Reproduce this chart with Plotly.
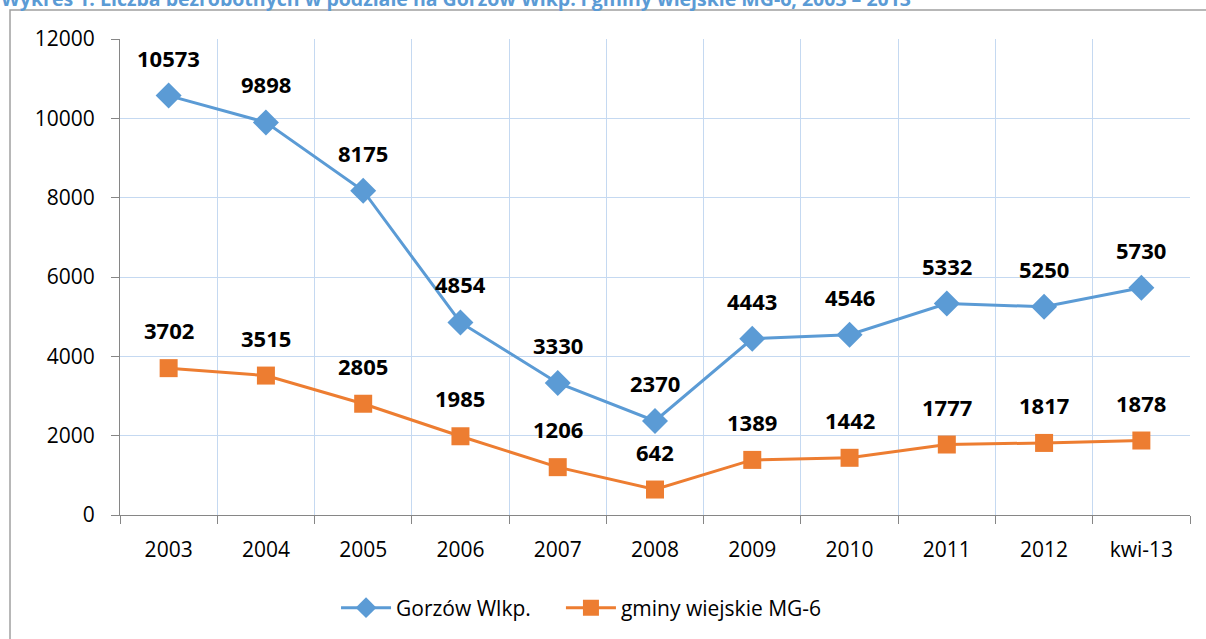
import plotly.graph_objects as go

categories = ["2003", "2004", "2005", "2006", "2007", "2008", "2009", "2010", "2011", "2012", "kwi-13"]
gorzow = [10573, 9898, 8175, 4854, 3330, 2370, 4443, 4546, 5332, 5250, 5730]
gminy = [3702, 3515, 2805, 1985, 1206, 642, 1389, 1442, 1777, 1817, 1878]
series_names = ["Gorzów Wlkp.", "gminy wiejskie MG-6"]
title_text = "Wykres 1. Liczba bezrobotnych w podziale na Gorzów Wlkp. i gminy wiejskie MG-6, 2003 – 2013"

BLUE = "#5B9BD5"
ORANGE = "#ED7D31"
FONT = "Open Sans"

fig = go.Figure()
fig.add_trace(go.Scatter(x=categories, y=gorzow, name=series_names[0], mode="lines+markers",
                         line=dict(color=BLUE, width=3),
                         marker=dict(symbol="diamond", size=20, color=BLUE), legend="legend"))
fig.add_trace(go.Scatter(x=categories, y=gminy, name=series_names[1], mode="lines+markers",
                         line=dict(color=ORANGE, width=3),
                         marker=dict(symbol="square", size=18, color=ORANGE), legend="legend2"))

annotations = []
for series in (gorzow, gminy):
    for i, v in enumerate(series):
        annotations.append(dict(x=i, y=v, xref="x", yref="y", text="<b>%d</b>" % v,
                                showarrow=False, yshift=38,
                                font=dict(family=FONT, size=22, color="black")))
annotations.append(dict(x=-0.113, y=1.085, xref="paper", yref="paper", text="<b>" + title_text + "</b>",
                        showarrow=False, xanchor="left", yanchor="middle",
                        font=dict(family=FONT, size=19.5, color=BLUE)))

legend_common = dict(orientation="h", y=-0.15, yanchor="top", xanchor="left", itemwidth=50,
                     font=dict(family=FONT, size=21, color="black"), bgcolor="rgba(0,0,0,0)")

fig.update_layout(
    width=1206, height=639,
    margin=dict(l=120, r=16, t=39, b=123),
    paper_bgcolor="white", plot_bgcolor="white",
    font=dict(family=FONT, size=21, color="black"),
    showlegend=True,
    legend=dict(x=0.2019, **legend_common),
    legend2=dict(x=0.4121, **legend_common),
    annotations=annotations,
    shapes=[dict(type="rect", xref="paper", yref="paper", x0=-0.1028, x1=1.2, y0=-0.5, y1=1.0608,
                 line=dict(color="#A0A0A0", width=1.5), fillcolor="rgba(0,0,0,0)", layer="above")],
)
fig.update_xaxes(type="category", tickson="boundaries", showgrid=True, gridcolor="#C5D9F1", gridwidth=1,
                 showline=True, linecolor="#868686", linewidth=1, ticks="outside", ticklen=8,
                 tickcolor="#868686", tickfont=dict(family=FONT, size=21), range=[-0.5, 10.5],
                 ticklabelstandoff=16)
fig.update_yaxes(range=[0, 12000], dtick=2000, tickformat="d", showgrid=True, gridcolor="#C5D9F1", gridwidth=1,
                 showline=True, linecolor="#868686", linewidth=1, ticks="outside", ticklen=8,
                 tickcolor="#868686", tickfont=dict(family=FONT, size=21), zeroline=False,
                 ticklabelstandoff=12)

fig.write_html("out.html", config={"displayModeBar": False},
               post_script="document.body.style.margin='0';")
